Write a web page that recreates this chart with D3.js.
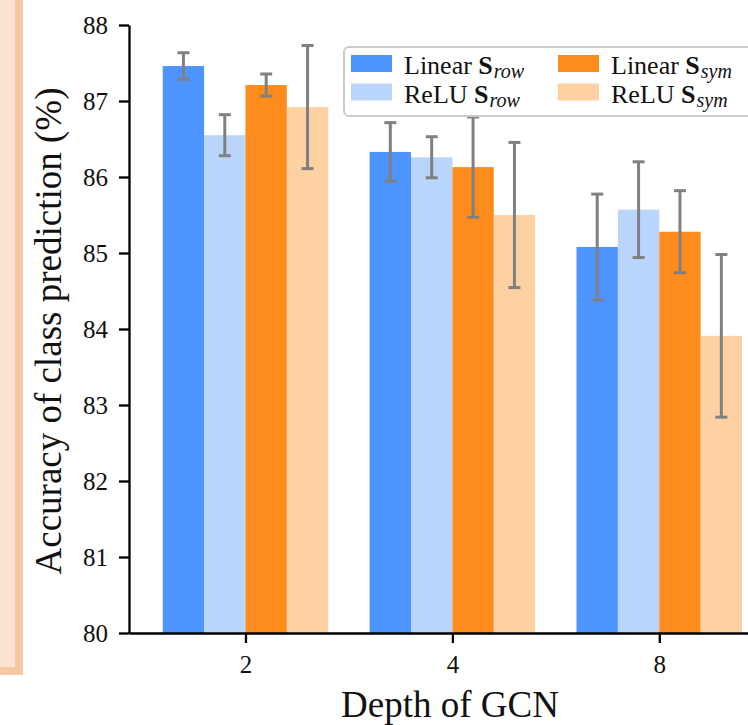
<!DOCTYPE html>
<html>
<head>
<meta charset="utf-8">
<script src="https://cdn.jsdelivr.net/npm/d3@7"></script>
<style>
  html, body { margin: 0; padding: 0; background: #fff; overflow: hidden; }
  svg { display: block; font-family: "Liberation Serif", "DejaVu Serif", serif; }
</style>
</head>
<body>
<div id="chart"></div>
<script>
// values
var depths = ['2', '4', '8'];
var seriesKeys = ['linRow', 'reluRow', 'linSym', 'reluSym'];
var linearRow = [87.46, 86.33, 85.08];
var reluRow = [86.55, 86.26, 85.57];
var linearSym = [87.21, 86.13, 85.28];
var reluSym = [86.92, 85.50, 83.91];
var linearRowErr = [0.175, 0.385, 0.695];
var reluRowErr = [0.27, 0.27, 0.63];
var linearSymErr = [0.145, 0.66, 0.54];
var reluSymErr = [0.81, 0.955, 1.07];
var yTicks = [80, 81, 82, 83, 84, 85, 86, 87, 88];
var legendNames = [
  { pre: 'Linear ', sub: 'row' },
  { pre: 'ReLU ', sub: 'row' },
  { pre: 'Linear ', sub: 'sym' },
  { pre: 'ReLU ', sub: 'sym' }
];

var values = [linearRow, reluRow, linearSym, reluSym];
var errors = [linearRowErr, reluRowErr, linearSymErr, reluSymErr];
var colors = ['#4d94ff', '#b9d5fc', '#fe8c1d', '#fed1a3'];

var width = 748, height = 725;
var svg = d3.select('#chart').append('svg')
  .attr('width', width)
  .attr('height', height);

// cropped panel on the far left
svg.append('rect').attr('x', -20).attr('y', -20).attr('width', 43).attr('height', 695).attr('fill', '#f9c7a5');
svg.append('rect').attr('x', -20).attr('y', -20).attr('width', 35).attr('height', 687).attr('fill', '#fce3d3');

var x = d3.scaleLinear().domain([-0.563, 2.54]).range([129, 771]);
var y = d3.scaleLinear().domain([80, 88]).range([633, 25]);
var inner = d3.scaleBand().domain(seriesKeys).range([-0.4, 0.4]);

var rows = [];
depths.forEach(function(d, i) {
  seriesKeys.forEach(function(k, j) {
    rows.push({ g: i, s: j, v: values[j][i], e: errors[j][i] });
  });
});

var plot = svg.append('g');
plot.selectAll('rect.bar')
  .data(rows)
  .enter()
  .append('rect')
  .attr('class', 'bar')
  .attr('x', function(d) { return x(d.g + inner(seriesKeys[d.s])); })
  .attr('width', function(d) { return x(d.g + inner.bandwidth()) - x(d.g); })
  .attr('y', function(d) { return y(d.v); })
  .attr('height', function(d) { return y(80) - y(d.v); })
  .attr('fill', function(d) { return colors[d.s]; });

var err = plot.selectAll('g.err')
  .data(rows)
  .enter()
  .append('g')
  .attr('class', 'err')
  .attr('stroke', '#808080')
  .attr('stroke-width', 3);
var cx = function(d) { return x(d.g + inner(seriesKeys[d.s]) + inner.bandwidth() / 2); };
err.append('line')
  .attr('x1', cx).attr('x2', cx)
  .attr('y1', function(d) { return y(d.v + d.e); })
  .attr('y2', function(d) { return y(d.v - d.e); });
err.append('line')
  .attr('x1', function(d) { return cx(d) - 6; }).attr('x2', function(d) { return cx(d) + 6; })
  .attr('y1', function(d) { return y(d.v + d.e); })
  .attr('y2', function(d) { return y(d.v + d.e); });
err.append('line')
  .attr('x1', function(d) { return cx(d) - 6; }).attr('x2', function(d) { return cx(d) + 6; })
  .attr('y1', function(d) { return y(d.v - d.e); })
  .attr('y2', function(d) { return y(d.v - d.e); });

// axes
var xAxis = svg.append('g')
  .attr('transform', 'translate(0,633)')
  .call(d3.axisBottom(x).tickValues([0, 1, 2]).tickFormat(function(i) { return depths[i]; })
    .tickSize(10).tickPadding(12).tickSizeOuter(0));
var yAxis = svg.append('g')
  .attr('transform', 'translate(129,0)')
  .call(d3.axisLeft(y).tickValues(yTicks).tickSize(10).tickPadding(11).tickSizeOuter(0));
[xAxis, yAxis].forEach(function(a) {
  a.attr('font-family', '"Liberation Serif", serif').attr('font-size', 25);
  a.select('.domain').attr('stroke', '#000').attr('stroke-width', 2.3);
  a.selectAll('.tick line').attr('stroke', '#000').attr('stroke-width', 2.3);
  a.selectAll('.tick text').attr('fill', '#111');
});

svg.append('text')
  .attr('transform', 'translate(61,331) rotate(-90)')
  .attr('text-anchor', 'middle')
  .attr('fill', '#111')
  .style('font-size', '37px')
  .text('Accuracy of class prediction (%)');

svg.append('text')
  .attr('x', 450)
  .attr('y', 717)
  .attr('text-anchor', 'middle')
  .attr('fill', '#111')
  .style('font-size', '37px')
  .text('Depth of GCN');

// legend
var legend = svg.append('g').attr('transform', 'translate(344,47)');
legend.append('rect')
  .attr('width', 430).attr('height', 69)
  .attr('rx', 5)
  .attr('fill', '#fff').attr('fill-opacity', 0.8)
  .attr('stroke', '#cccccc').attr('stroke-width', 2);
var item = legend.selectAll('.legend')
  .data(legendNames)
  .enter()
  .append('g')
  .attr('class', 'legend')
  .attr('transform', function(d, i) {
    return 'translate(' + (7 + Math.floor(i / 2) * 207) + ',' + (8 + (i % 2) * 28.5) + ')';
  });
item.append('rect')
  .attr('width', 41).attr('height', 17)
  .attr('fill', function(d, i) { return colors[i]; });
var lt = item.append('text')
  .attr('x', 53).attr('y', 19)
  .attr('fill', '#111')
  .style('font-size', '26px');
lt.append('tspan').text(function(d) { return d.pre; });
lt.append('tspan').style('font-weight', 'bold').text('S');
lt.append('tspan').attr('dy', 4).attr('dx', 1).style('font-style', 'italic').style('font-size', '20px')
  .text(function(d) { return d.sub; });
</script>
</body>
</html>
